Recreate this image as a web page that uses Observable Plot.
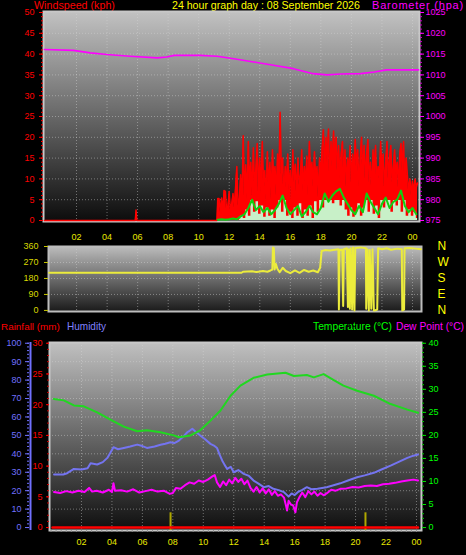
<!DOCTYPE html>
<html><head><meta charset="utf-8">
<script src="https://cdn.jsdelivr.net/npm/d3@7"></script>
<script src="https://cdn.jsdelivr.net/npm/@observablehq/plot@0.6"></script>
<style>
html,body{margin:0;padding:0;background:#000;}
#wrap{position:relative;width:466px;height:555px;overflow:hidden;background:#000;font-family:"Liberation Sans",Arial,sans-serif;}
#wrap svg{position:absolute;left:0;overflow:visible;}
.t{position:absolute;font-size:11px;white-space:nowrap;line-height:8px;height:8px;}
</style></head><body>
<div id="wrap">
  <div class="t" data-w="81" style="left:34px;top:1px;color:#ff0000">Windspeed (kph)</div>
  <div class="t" data-w="188" style="left:172px;top:1px;color:#ffff00">24 hour graph day : 08 September 2026</div>
  <div class="t" data-w="92" style="left:372px;top:1px;color:#ff00ff">Barometer (hpa)</div>
  <div class="t" data-w="59" style="left:1px;top:323px;color:#ff0000">Rainfall (mm)</div>
  <div class="t" data-w="39" style="left:67px;top:323px;color:#8080ff">Humidity</div>
  <div class="t" data-w="79" style="left:313px;top:323px;color:#00ff00">Temperature (°C)</div>
  <div class="t" data-w="68" style="left:396px;top:323px;color:#ff00ff">Dew Point (°C)</div>
</div>
<script>
// ---------- tick labels ----------
const hourTicks = [2,4,6,8,10,12,14,16,18,20,22,24];
const hourLabels = ["02","04","06","08","10","12","14","16","18","20","22","00"];
const dirTicks = [0,90,180,270,360];
const dirLetters = ["N","E","S","W","N"];

// ---------- barometer (hPa) ----------
const baroHours  = [-0.1,1.8,2.9,4.0,5.5,7.3,7.9,8.4,10.1,11.2,12.3,13.6,14.9,16.2,17.5,18.4,19.3,20.6,21.5,22.3,24.4];
const baroValues = [1016.1,1015.9,1015.3,1014.9,1014.5,1014.1,1014.3,1014.7,1014.7,1014.5,1013.9,1013.1,1012.3,1011.5,1010.3,1010.0,1010.2,1010.3,1010.7,1011.2,1011.2];

// ---------- wind gust (kph) ----------
const gustEarlyHours = [-0.1,5.85,5.9,5.95,11.2];
const gustEarly      = [0,0,2.5,0,0];
const gustStart = 11.25;          // 5-minute samples from 11:15
const gustValues = [
  5.3,5.3,2.0,5.4,2.5,7.2,7.0,2.2,3.5,
  7.0,2.5,4.0,6.5,3.0,8.0,13.0,3.5,5.0,11.0,4.0,20.4,
  6.0,13.4,5.0,19.0,9.0,14.0,6.0,17.5,8.0,12.5,18.5,7.0,
  15.0,6.5,19.0,9.0,12.0,4.5,16.5,8.0,14.0,5.0,17.0,10.0,
  13.0,6.0,16.0,9.0,26.0,11.0,15.0,5.0,13.0,8.0,16.0,7.0,
  12.0,4.5,17.0,9.0,13.5,6.0,15.0,8.5,11.0,17.0,7.0,13.0,
  9.0,15.5,6.0,19.0,11.0,14.0,8.0,16.5,10.0,13.0,5.5,15.0,
  11.0,17.0,21.8,12.0,20.0,14.0,22.0,9.0,19.0,13.0,21.5,15.0,
  20.0,12.0,18.0,10.0,16.0,19.0,11.0,17.0,8.0,15.0,12.0,18.0,
  9.0,16.0,11.0,19.5,13.0,17.0,8.0,15.0,20.0,11.0,18.0,10.0,
  16.0,19.5,9.0,14.0,7.0,17.0,12.0,18.0,8.5,13.0,10.0,19.0,
  12.0,16.0,8.0,14.0,19.0,10.0,15.0,18.0,9.0,13.0,17.0,11.0,
  14.0,8.0,16.0,18.5,12.0,19.0,9.0,15.0,11.0,7.0,10.0,6.0,
  9.5,7.0,10.0,8.0,9.0
];

// ---------- wind speed (kph), 10-minute samples ----------
const windStart = 12.67;
const windValues = [
  0.3,1.0,
  0.5,2.5,1.0,4.8,2.0,4.5,
  1.5,3.5,0.8,3.0,1.0,2.5,
  0.5,3.0,4.8,2.0,4.8,1.0,
  2.0,0.5,3.0,1.0,4.0,0.5,
  2.5,1.0,3.5,0.5,4.5,2.0,
  4.8,3.0,4.8,4.8,4.8,4.0,
  4.8,4.8,3.5,4.8,2.5,1.0,
  3.0,0.8,2.0,4.0,1.0,3.0,
  4.8,2.0,4.8,1.5,3.5,0.5,
  4.8,3.0,4.8,4.8,2.0,4.8,
  3.5,4.8,2.0,4.8,1.0,2.5,
  1.0,2.0,0.5
];

// ---------- average wind (kph), 15-minute samples ----------
const avgStart = 11.25;
const avgValues = [
  0.2,0.3,0.2,
  0.3,0.5,0.3,1.0,
  1.5,3.0,5.0,2.5,
  3.5,2.0,3.0,1.5,
  2.5,4.0,6.0,3.0,
  1.5,2.5,3.5,1.0,
  2.0,3.5,2.0,1.5,
  3.0,6.5,4.5,6.0,
  7.0,7.6,5.5,4.0,
  2.5,1.5,3.5,2.0,
  6.5,4.5,3.0,1.5,
  4.0,5.5,3.0,4.5,
  5.0,7.2,3.5,2.0,
  3.0,1.5
];

// ---------- wind direction (deg) ----------
const dirHours  = [0.2,12.8,12.9,13.5,13.8,14.2,14.5,14.7,14.82,14.86,14.92,14.97,15.05,15.15,15.3,15.5,15.7,16.0,16.3,16.6,16.9,17.2,17.5,17.8,17.95,18.05,18.3,18.6,18.9,19.15,19.18,19.22,19.4,19.46,19.5,19.7,19.77,19.82,19.9,19.95,20.05,20.1,20.2,20.25,20.6,20.95,20.97,21.05,21.14,21.2,21.3,21.38,21.47,21.55,21.69,21.75,22.0,22.3,22.6,23.0,23.3,23.33,23.45,23.48,23.8,24.2,24.55];
const dirValues = [212,212,218,220,216,222,218,225,230,355,350,230,262,235,215,240,222,210,225,212,228,218,225,215,240,335,340,338,342,345,5,340,342,25,345,350,20,345,10,350,5,355,0,352,355,350,10,345,0,340,10,345,0,0,5,350,345,350,342,348,345,0,5,350,352,348,345];

// ---------- temperature (°C) ----------
const tempHours  = [0.18,0.84,1.5,2.15,3.03,3.9,4.78,5.66,6.3,7.19,8.06,8.4,9.16,9.8,10.47,11.13,11.79,12.44,13.3,14.2,15.4,15.95,16.8,17.26,17.9,18.57,19.2,20.1,21.2,22.3,23.4,24.1];
const tempValues = [27.9,27.6,26.5,26.3,25.0,23.4,21.9,20.9,21.1,20.7,20.0,19.6,20.0,21.1,23.2,25.4,28.6,30.8,32.5,33.2,33.6,32.9,33.1,32.6,33.3,32.0,30.8,29.7,28.6,26.8,25.6,24.9];

// ---------- humidity (%) ----------
const humHours  = [0.2,0.8,1.06,1.5,2.0,2.4,2.6,3.03,3.4,3.7,4.1,4.4,4.78,5.2,5.66,6.0,6.3,6.8,7.19,7.5,7.84,8.1,8.4,8.7,8.95,9.1,9.28,9.5,9.8,10.1,10.47,10.7,10.9,11.05,11.24,11.4,11.57,11.8,12.0,12.3,12.66,13.0,13.3,13.6,13.97,14.3,14.6,14.95,15.3,15.45,15.6,15.8,16.0,16.2,16.5,16.8,17.1,17.5,17.8,18.1,18.5,19.0,19.5,20.1,20.6,21.2,21.7,22.3,22.8,23.4,23.8,24.1];
const humValues = [28.8,28.8,29.5,31.8,31.5,32.2,34.9,34.2,35.5,37.8,43.6,42.5,43.2,44.0,45.0,44.2,43.2,44.0,44.9,45.5,46.3,45.8,47.2,49.5,51.7,52.5,53.6,52.0,49.9,48.0,45.4,44.5,43.2,40.0,36.4,34.0,31.8,33.0,30.0,31.2,29.1,28.0,25.5,24.0,21.9,22.5,21.0,20.3,19.2,18.0,16.8,18.5,17.6,19.2,20.5,21.9,20.8,21.0,21.5,21.9,22.8,24.0,25.5,27.3,28.3,29.7,31.5,33.6,35.5,37.8,39.0,39.6];

// ---------- dew point (°C) ----------
const dewHours  = [0.2,0.6,1.0,1.4,1.8,2.2,2.5,2.7,3.0,3.4,3.8,4.0,4.1,4.2,4.6,5.0,5.4,5.8,6.2,6.6,7.0,7.4,7.8,8.0,8.2,8.5,8.8,9.1,9.4,9.7,10.0,10.3,10.6,10.75,10.9,11.1,11.3,11.5,11.7,11.9,12.1,12.3,12.5,12.7,12.9,13.1,13.3,13.5,13.7,13.9,14.1,14.3,14.5,14.7,14.9,15.1,15.3,15.45,15.5,15.6,15.75,15.9,16.05,16.15,16.3,16.5,16.7,16.9,17.1,17.3,17.5,17.7,17.9,18.1,18.4,18.7,19.0,19.4,19.8,20.2,20.6,21.0,21.4,21.8,22.2,22.6,23.0,23.4,23.8,24.1];
const dewValues = [7.7,7.5,7.9,7.6,8.0,7.7,8.6,7.8,8.0,7.6,8.2,7.7,9.6,8.0,8.1,7.8,8.3,7.6,7.9,8.2,7.8,8.0,7.3,7.5,8.6,8.4,9.2,9.8,9.5,10.2,9.9,10.4,11.1,11.4,9.8,8.8,10.0,9.2,10.4,9.6,10.8,9.9,10.6,9.4,10.2,8.6,7.8,8.8,7.6,8.5,7.4,8.3,7.1,7.9,6.9,7.2,6.5,4.5,3.7,5.8,5.0,4.8,3.3,5.5,6.5,7.6,6.6,7.9,7.2,7.8,6.9,7.5,7.0,7.4,8.2,8.0,8.4,8.5,8.8,8.7,9.0,9.1,9.0,9.4,9.5,9.7,10.0,10.2,10.4,10.2];

// ---------- rainfall (mm) and sun markers ----------
const rainHours  = [0.1,24.1];
const rainValues = [0,0];
const sunHours = [7.85,20.65];

// ================= build =================
const wrap = document.getElementById("wrap");
const FONT = '"Liberation Sans", Arial, sans-serif';
const grid = {stroke: "#d8d8d8", strokeOpacity: 0.45, strokeDasharray: "1,2"};

// fit header texts to their widths in the reference:
// shrink the font when too wide, add letter spacing when too narrow
document.querySelectorAll(".t").forEach(el => {
  const w = +el.dataset.w, cur = el.getBoundingClientRect().width;
  const n = el.textContent.length;
  if (!(cur > 0)) return;
  if (cur > w) {
    el.style.fontSize = (11 * w / cur).toFixed(2) + "px";
  } else if (n > 1) {
    el.style.letterSpacing = ((w - cur) / n).toFixed(2) + "px";
  }
});

function place(svg, top, id, c0, c1) {
  svg.style.position = "absolute";
  svg.style.top = top + "px";
  svg.style.left = "0px";
  const defs = d3.select(svg).insert("defs", ":first-child");
  const g = defs.append("linearGradient").attr("id", id).attr("x1", 0).attr("y1", 0).attr("x2", 0).attr("y2", 1);
  g.append("stop").attr("offset", "0%").attr("stop-color", c0);
  g.append("stop").attr("offset", "100%").attr("stop-color", c1);
  wrap.appendChild(svg);
}
const seq = (start, step, vals) => vals.map((v, i) => ({h: start + i * step, v}));
const range = (a, b, s) => d3.range(a, b + s / 2, s);

// ----- Panel 1: wind + barometer -----
const gustData = gustEarlyHours.map((h, i) => ({h, v: gustEarly[i]})).concat(seq(gustStart, 5 / 60, gustValues));
const windData = seq(windStart, 10 / 60, windValues);
const avgData = seq(avgStart, 0.25, avgValues);
const baroData = baroHours.map((h, i) => ({h, v: baroValues[i] - 975}));

const p1 = Plot.plot({
  width: 466, height: 240,
  marginLeft: 43, marginRight: 47, marginTop: 11, marginBottom: 19,
  style: {background: "transparent", fontFamily: FONT, fontSize: "9px", overflow: "visible"},
  x: {domain: [-0.16, 24.46]},
  y: {domain: [-0.24, 50.24]},
  marks: [
    Plot.frame({fill: "url(#g1)"}),
    Plot.gridX({ticks: hourTicks, ...grid}),
    Plot.gridY({ticks: range(5, 45, 5), ...grid}),
    Plot.frame({stroke: "#c8c8c8", strokeWidth: 2}),
    Plot.areaY(gustData, {x: "h", y: "v", fill: "#ff0000"}),
    Plot.lineY(gustData, {x: "h", y: "v", stroke: "#ff0000", strokeWidth: 1.5}),
    Plot.areaY(windData, {x: "h", y: "v", fill: "#c8f0c8", curve: "step"}),
    Plot.lineY(avgData, {x: "h", y: "v", stroke: "#10d010", strokeWidth: 2}),
    Plot.lineY(baroData, {x: "h", y: "v", stroke: "#ff00ff", strokeWidth: 1.6}),
    Plot.axisY({ticks: range(0, 50, 1), tickSize: 2, tickFormat: () => "", stroke: "#ff0000", label: null}),
    Plot.axisY({ticks: range(0, 50, 5), tickSize: 4, tickPadding: 5, stroke: "#ff0000", fill: "#ff0000", label: null}),
    Plot.axisY({anchor: "right", ticks: range(0, 50, 1), tickSize: 2, tickFormat: () => "", stroke: "#cc00cc", label: null}),
    Plot.axisY({anchor: "right", ticks: range(0, 50, 5), tickSize: 4, tickPadding: 2, tickFormat: d => String(d + 975), stroke: "#ff00ff", fill: "#ff00ff", label: null}),
    Plot.axisX({ticks: hourTicks, tickSize: 0, tickPadding: 12, tickFormat: d => hourLabels[hourTicks.indexOf(d)], fill: "#e8e800", label: null})
  ]
});
place(p1, 0, "g1", "#c2c2c2", "#0c0c0c");

// ----- Panel 2: wind direction -----
const dirData = dirHours.map((h, i) => ({h, v: dirValues[i]}));
const p2 = Plot.plot({
  width: 466, height: 78,
  marginLeft: 48, marginRight: 45, marginTop: 6, marginBottom: 7,
  style: {background: "transparent", fontFamily: FONT, fontSize: "9px", overflow: "visible"},
  x: {domain: [0.16, 24.59]},
  y: {domain: [-6, 360]},
  marks: [
    Plot.frame({fill: "url(#g2)"}),
    Plot.gridX({ticks: hourTicks, ...grid}),
    Plot.gridY({ticks: [90, 180, 270], ...grid}),
    Plot.frame({stroke: "#bdbdbd", strokeWidth: 2}),
    Plot.lineY(dirData, {x: "h", y: "v", stroke: "#ecec3c", strokeWidth: 2}),
    Plot.axisY({ticks: dirTicks, tickSize: 4, tickPadding: 6, stroke: "#c8c800", fill: "#d8d800", label: null}),
    Plot.axisY({anchor: "right", ticks: dirTicks, tickSize: 0, tickPadding: 16, tickFormat: d => dirLetters[dirTicks.indexOf(d)], fill: "#ffff00", fontSize: 12, label: null})
  ]
});
place(p2, 240, "g2", "#bcbcbc", "#1a1a1a");

// ----- Panel 3: temperature / humidity / dew point / rain -----
const TK = 2.5, RK = 100 / 30;
const tempData = tempHours.map((h, i) => ({h, v: tempValues[i] * TK}));
const humData = humHours.map((h, i) => ({h, v: humValues[i]}));
const dewData = dewHours.map((h, i) => ({h, v: dewValues[i] * TK}));
const rainData = rainHours.map((h, i) => ({h, v: rainValues[i] * RK}));

const p3 = Plot.plot({
  width: 466, height: 220,
  marginLeft: 49, marginRight: 45, marginTop: 7, marginBottom: 25,
  style: {background: "transparent", fontFamily: FONT, fontSize: "9px", overflow: "visible"},
  x: {domain: [-0.1, 24.33]},
  y: {domain: [-1.6, 100.4]},
  marks: [
    Plot.frame({fill: "url(#g3)"}),
    Plot.gridX({ticks: hourTicks, ...grid}),
    Plot.gridY({ticks: range(10, 90, 10), ...grid}),
    Plot.frame({stroke: "#c8c8c8", strokeWidth: 2}),
    Plot.ruleX(sunHours, {y1: -1.6, y2: 8, stroke: "#b0a800", strokeWidth: 2}),
    Plot.lineY(rainData, {x: "h", y: "v", stroke: "#ff0000", strokeWidth: 2.5}),
    Plot.lineY(humData, {x: "h", y: "v", stroke: "#7474f0", strokeWidth: 2}),
    Plot.lineY(dewData, {x: "h", y: "v", stroke: "#ff00ff", strokeWidth: 2}),
    Plot.lineY(tempData, {x: "h", y: "v", stroke: "#20d820", strokeWidth: 2}),
    Plot.ruleX([-0.1], {dx: -19, stroke: "#7070ff", strokeWidth: 2}),
    Plot.axisY({ticks: range(0, 100, 2), dx: -20, tickSize: 2, tickFormat: () => "", stroke: "#7070ff", label: null}),
    Plot.axisY({ticks: range(0, 100, 10), dx: -20, tickSize: 4, tickPadding: 4, stroke: "#7070ff", fill: "#7070ff", label: null}),
    Plot.axisY({ticks: range(0, 30, 1).map(r => r * RK), tickSize: 2, tickFormat: () => "", stroke: "#cc0000", label: null}),
    Plot.axisY({ticks: range(0, 30, 5).map(r => r * RK), tickSize: 3, tickPadding: 4, tickFormat: d => String(Math.round(d / RK)), stroke: "#ff0000", fill: "#ff0000", label: null}),
    Plot.axisY({anchor: "right", ticks: range(0, 40, 1).map(t => t * TK), tickSize: 2, tickFormat: () => "", stroke: "#00c000", label: null}),
    Plot.axisY({anchor: "right", ticks: range(0, 40, 5).map(t => t * TK), tickSize: 4, tickPadding: 3, tickFormat: d => String(Math.round(d / TK)), stroke: "#00e000", fill: "#00ff00", label: null}),
    Plot.axisX({ticks: range(0, 24, 1 / 3), tickSize: 2, tickFormat: () => "", stroke: "#909090", label: null}),
    Plot.axisX({ticks: hourTicks, tickSize: 0, tickPadding: 8, tickFormat: d => hourLabels[hourTicks.indexOf(d)], fill: "#e8e800", label: null})
  ]
});
place(p3, 335, "g3", "#c0c0c0", "#0e0e0e");
</script>
</body></html>
